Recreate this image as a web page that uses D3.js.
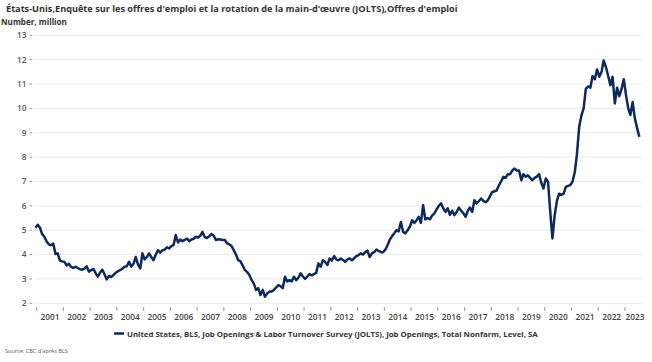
<!DOCTYPE html>
<html>
<head>
<meta charset="utf-8">
<script src="https://cdn.jsdelivr.net/npm/d3@7"></script>
<style>
  body { margin: 0; background: #fff; }
  svg { font-family: "Open Sans", sans-serif; }
</style>
</head>
<body>
<svg width="652" height="362"></svg>
<script>
const title = "États-Unis,Enquête sur les offres d'emploi et la rotation de la main-d'œuvre (JOLTS),Offres d'emploi";
const unitLabel = "Number, million";
const seriesName = "United States, BLS, Job Openings & Labor Turnover Survey (JOLTS), Job Openings, Total Nonfarm, Level, SA";
const sourceText = "Source: CBC d'après BLS";

const firstMonth = new Date(2000, 11, 15);
const yearLabels = ["2001", "2002", "2003", "2004", "2005", "2006", "2007", "2008", "2009", "2010", "2011", "2012",
                    "2013", "2014", "2015", "2016", "2017", "2018", "2019", "2020", "2021", "2022", "2023"];
const yTicks = [2, 3, 4, 5, 6, 7, 8, 9, 10, 11, 12, 13];

// job openings, millions, monthly from Dec 2000
const openings = [
  5.1,
  5.22, 5.1, 4.85, 4.73, 4.55, 4.42, 4.38, 4.45, 4.02, 4.05, 3.75, 3.72,
  3.7, 3.55, 3.62, 3.5, 3.45, 3.5, 3.45, 3.4, 3.38, 3.42, 3.52, 3.3,
  3.36, 3.42, 3.25, 3.09, 3.25, 3.38, 3.2, 2.98, 3.12, 3.08, 3.16, 3.25,
  3.32, 3.36, 3.42, 3.5, 3.52, 3.7, 3.5, 3.62, 3.9, 3.6, 3.43, 4.05,
  3.8, 3.9, 4.05, 3.9, 3.77, 4.0, 4.18, 4.08, 4.18, 4.2, 4.3, 4.25,
  4.35, 4.4, 4.8, 4.5, 4.62, 4.55, 4.6, 4.66, 4.55, 4.62, 4.65, 4.73,
  4.7, 4.78, 4.93, 4.72, 4.68, 4.75, 4.84, 4.78, 4.6, 4.63, 4.62, 4.6,
  4.6, 4.46, 4.42, 4.35, 4.18, 4.0, 3.77, 3.72, 3.55, 3.36, 3.28, 3.16,
  2.95, 2.8, 2.55, 2.62, 2.34, 2.55, 2.27, 2.4, 2.48, 2.48, 2.55, 2.65,
  2.75, 2.7, 2.62, 3.09, 2.9, 2.95, 2.9, 3.09, 2.95, 3.05, 3.23, 3.1,
  3.0, 3.1, 3.2, 3.15, 3.2, 3.25, 3.64, 3.5, 3.77, 3.7, 3.57, 3.84,
  3.75, 3.94, 3.8, 3.76, 3.84, 3.78, 3.7, 3.8, 3.84, 3.76, 3.85, 3.94,
  3.98, 4.05, 4.0, 4.1, 4.16, 3.9, 4.05, 4.1, 4.21, 4.15, 4.1, 4.1,
  4.2, 4.39, 4.6, 4.75, 4.87, 5.0, 4.95, 5.34, 4.93, 4.87, 5.0, 5.14,
  5.41, 5.3, 5.4, 5.55, 5.3, 6.03, 5.44, 5.5, 5.45, 5.6, 5.69, 5.85,
  6.0, 6.1, 5.9, 5.75, 5.9, 5.63, 5.8, 5.62, 5.75, 5.93, 5.8, 5.7,
  5.55, 5.8, 5.93, 5.75, 6.23, 6.1, 6.2, 6.3, 6.2, 6.15, 6.23, 6.4,
  6.57, 6.6, 6.63, 6.84, 7.0, 7.19, 7.15, 7.3, 7.3, 7.45, 7.53, 7.45,
  7.45, 7.05, 7.3, 7.2, 7.25, 7.15, 7.05, 7.15, 7.2, 7.3, 6.95, 6.71,
  7.12, 6.98, 5.8, 4.66, 5.6, 6.2, 6.5, 6.45, 6.5, 6.78, 6.82, 6.85,
  7.0, 7.4, 8.1, 9.24, 9.7, 10.0, 10.8, 10.9, 10.85, 11.33, 11.2, 11.6,
  11.3, 11.5, 11.97, 11.7, 11.35, 10.95, 11.3, 10.2, 10.85, 10.5, 10.8, 11.2,
  10.55, 9.99, 9.73, 10.26, 9.6, 9.2, 8.83
];

const svg = d3.select("svg");
const navy = "#0c2a5c";
const left = 33, right = 642, axisEnd = 645;

const data = openings.map((v, i) => ({ date: d3.timeMonth.offset(firstMonth, i), value: v }));

const x = d3.scaleTime()
    .domain([new Date(2001, 0, 1), new Date(2023, 0, 1)])
    .range([36.7, 625]);

const y = d3.scaleLinear()
    .domain([2, 13])
    .range([303.3, 35.3]);

// shrink or grow a text's font so it spans the wanted width
function fitWidth(sel, target) {
  const node = sel.node();
  const size = parseFloat(sel.attr("font-size"));
  sel.attr("font-size", size * target / node.getComputedTextLength());
}

svg.append("text")
    .attr("x", 6).attr("y", 11.5)
    .attr("font-size", 11).attr("font-weight", "bold")
    .attr("fill", "#333")
    .text(title)
    .call(fitWidth, 452);

svg.append("text")
    .attr("x", 1).attr("y", 25)
    .attr("font-size", 9).attr("font-weight", "bold")
    .attr("fill", "#333")
    .text(unitLabel)
    .call(fitWidth, 66);

// gridlines and y labels
const yAxis = svg.append("g");
yAxis.selectAll("line.grid")
  .data(yTicks)
  .join("line")
    .attr("class", "grid")
    .attr("x1", left).attr("x2", right)
    .attr("y1", d => y(d)).attr("y2", d => y(d))
    .attr("stroke", "#ebebeb");

yAxis.selectAll("line.tick")
  .data(yTicks)
  .join("line")
    .attr("class", "tick")
    .attr("x1", 29.5).attr("x2", 32)
    .attr("y1", d => y(d)).attr("y2", d => y(d))
    .attr("stroke", "#999");

yAxis.selectAll("text")
  .data(yTicks)
  .join("text")
    .attr("x", 26.5)
    .attr("y", d => y(d))
    .attr("dy", "0.35em")
    .attr("text-anchor", "end")
    .attr("font-size", 8.3).attr("font-weight", 600)
    .attr("fill", "#555")
    .text(d => d);

// x ticks at each year start, labels centred in the year
const xAxis = svg.append("g");
const yearStart = s => new Date(+s, 0, 1);

xAxis.selectAll("line")
  .data(yearLabels)
  .join("line")
    .attr("x1", d => x(yearStart(d))).attr("x2", d => x(yearStart(d)))
    .attr("y1", 307).attr("y2", 311)
    .attr("stroke", "#999");

xAxis.selectAll("text")
  .data(yearLabels)
  .join("text")
    .attr("x", d => (x(yearStart(d)) + Math.min(axisEnd, x(new Date(+d + 1, 0, 1)))) / 2)
    .attr("y", 319.5)
    .attr("text-anchor", "middle")
    .attr("font-size", 8.3).attr("font-weight", 600)
    .attr("fill", "#444")
    .text(d => d);

const line = d3.line()
    .x(d => x(d.date))
    .y(d => y(d.value));

svg.append("path")
    .datum(data)
    .attr("fill", "none")
    .attr("stroke", navy)
    .attr("stroke-width", 2.5)
    .attr("stroke-linejoin", "round")
    .attr("d", line);

// legend
svg.append("line")
    .attr("x1", 114).attr("x2", 124)
    .attr("y1", 333.5).attr("y2", 333.5)
    .attr("stroke", navy).attr("stroke-width", 2.5);

svg.append("text")
    .attr("x", 127).attr("y", 336.5)
    .attr("font-size", 8.5).attr("font-weight", "bold")
    .attr("fill", "#333")
    .text(seriesName)
    .call(fitWidth, 411);

svg.append("text")
    .attr("x", 5).attr("y", 352.5)
    .attr("font-size", 7.5)
    .attr("fill", "#555")
    .text(sourceText)
    .call(fitWidth, 63);
</script>
</body>
</html>
